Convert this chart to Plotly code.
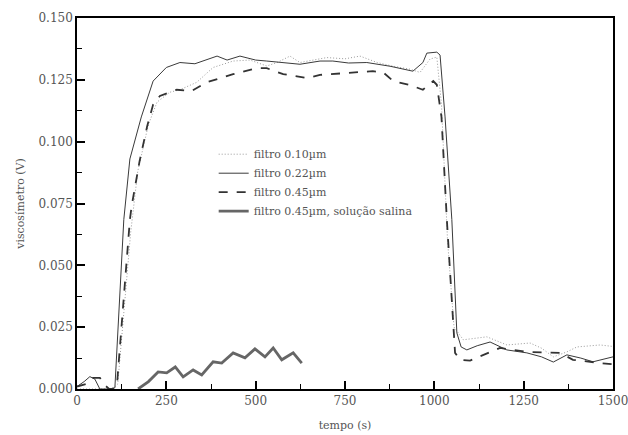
import plotly.graph_objects as go

# ---- data ----
x_022 = [0, 20, 36, 50, 64, 90, 106, 131, 148, 157, 180, 213, 250, 288, 330, 392, 420, 456, 500, 531,
         580, 624, 680, 716, 760, 811, 876, 940, 968, 979, 1007, 1016, 1030, 1049, 1063, 1075, 1091,
         1120, 1156, 1203, 1259, 1300, 1333, 1371, 1410, 1444, 1500]
y_022 = [0.001, 0.003, 0.005, 0.004, 0.0, 0.0, 0.0005, 0.0685, 0.093, 0.098, 0.110, 0.1245, 0.130,
         0.132, 0.1315, 0.1346, 0.133, 0.1346, 0.133, 0.1326, 0.1318, 0.1313, 0.1326, 0.1326, 0.1318,
         0.132, 0.1305, 0.1285, 0.132, 0.1358, 0.1362, 0.135, 0.11, 0.0685, 0.0227, 0.017, 0.0158,
         0.0175, 0.019, 0.0158, 0.0146, 0.013, 0.0109, 0.0138, 0.0125, 0.011, 0.013]

x_045 = [0, 25, 45, 64, 78, 90, 100, 112, 148, 153, 175, 196, 213, 232, 279, 321, 363, 437, 503, 531,
         577, 643, 680, 716, 828, 857, 885, 930, 968, 997, 1007, 1020, 1035, 1058, 1072, 1100, 1140,
         1184, 1259, 1352, 1388, 1430, 1464, 1500]
y_045 = [0.001, 0.002, 0.0045, 0.0045, 0.0015, 0.0, 0.0, 0.002, 0.0685, 0.074, 0.092, 0.106, 0.115,
         0.1185, 0.121, 0.1205, 0.124, 0.1273, 0.1297, 0.1297, 0.1273, 0.1257, 0.127, 0.1273, 0.1285,
         0.128, 0.1245, 0.123, 0.121, 0.1245, 0.123, 0.11, 0.0685, 0.0146, 0.0118, 0.0115, 0.014,
         0.0166, 0.015, 0.0146, 0.0118, 0.011, 0.0105, 0.010]

x_010 = [0, 50, 100, 114, 150, 170, 200, 224, 260, 288, 335, 381, 437, 484, 531, 560, 596, 624, 699,
         750, 792, 840, 885, 932, 960, 988, 1007, 1020, 1037, 1055, 1081, 1147, 1203, 1268, 1300, 1333,
         1371, 1399, 1464, 1500]
y_010 = [0.0, 0.0, 0.0, 0.002, 0.063, 0.088, 0.107, 0.116, 0.120, 0.121, 0.124, 0.130, 0.1326, 0.133,
         0.1306, 0.132, 0.1346, 0.132, 0.134, 0.1335, 0.1346, 0.132, 0.1305, 0.1293, 0.128, 0.1334,
         0.1342, 0.115, 0.06, 0.025, 0.0199, 0.0211, 0.0178, 0.0186, 0.0165, 0.013, 0.015, 0.017,
         0.0178, 0.0172]

x_sal = [171, 200, 227, 251, 275, 297, 325, 349, 381, 405, 437, 470, 498, 526, 549, 573, 605, 629]
y_sal = [0.0, 0.003, 0.0069, 0.0065, 0.0089, 0.0049, 0.0077, 0.0057, 0.011, 0.0105, 0.0146, 0.0126,
         0.0162, 0.013, 0.0166, 0.0118, 0.0146, 0.0105]

names = ["filtro 0.10\u00b5m", "filtro 0.22\u00b5m", "filtro 0.45\u00b5m",
         "filtro 0.45\u00b5m, solução salina"]
x_ticks = [0, 250, 500, 750, 1000, 1250, 1500]
y_ticks = [0.0, 0.025, 0.05, 0.075, 0.1, 0.125, 0.15]

FONT = "DejaVu Serif"
TXT = "#555555"

fig = go.Figure()
fig.add_trace(go.Scatter(x=x_010, y=y_010, name=names[0], mode="lines",
                         line=dict(color="#9a9a9a", width=1, dash="1px,2px")))
fig.add_trace(go.Scatter(x=x_022, y=y_022, name=names[1], mode="lines",
                         line=dict(color="#3a3a3a", width=1)))
fig.add_trace(go.Scatter(x=x_045, y=y_045, name=names[2], mode="lines",
                         line=dict(color="#333333", width=1.8, dash="dash")))
fig.add_trace(go.Scatter(x=x_sal, y=y_sal, name=names[3], mode="lines",
                         line=dict(color="#666666", width=2.8)))

axis_common = dict(showline=True, linecolor="black", linewidth=1.5, mirror=True, automargin=False,
                   showgrid=False, zeroline=False, ticks="inside", ticklen=8, tickwidth=1.5,
                   tickcolor="black", tickfont=dict(family=FONT, size=12, color=TXT),
                   ticklabeloverflow="allow")

fig.update_xaxes(range=[0, 1500], tickvals=x_ticks, ticktext=[str(v) for v in x_ticks],
                 minor=dict(ticks="inside", ticklen=5, tickwidth=1.2, tickcolor="black", dtick=125,
                            tick0=0, showgrid=False),
                 title=dict(text="tempo (s)", font=dict(family=FONT, size=11, color=TXT), standoff=14),
                 **axis_common)
fig.update_yaxes(range=[0, 0.15], tickvals=y_ticks, ticktext=[f"{v:.3f}" for v in y_ticks],
                 minor=dict(ticks="inside", ticklen=5, tickwidth=1.2, tickcolor="black", dtick=0.0125,
                            tick0=0, showgrid=False),
                 title=dict(text="viscosímetro (V)", font=dict(family=FONT, size=11, color=TXT), standoff=12),
                 **axis_common)

fig.update_layout(
    width=628, height=435,
    margin=dict(l=77, r=15, t=18, b=46),
    paper_bgcolor="white", plot_bgcolor="white",
    font=dict(family=FONT, color=TXT),
    legend=dict(x=0.255, y=0.672, xanchor="left", yanchor="top",
                font=dict(family=FONT, size=11, color=TXT),
                bgcolor="rgba(0,0,0,0)", tracegroupgap=0, itemwidth=30),
    showlegend=True,
)

fig.write_html("out.html")
